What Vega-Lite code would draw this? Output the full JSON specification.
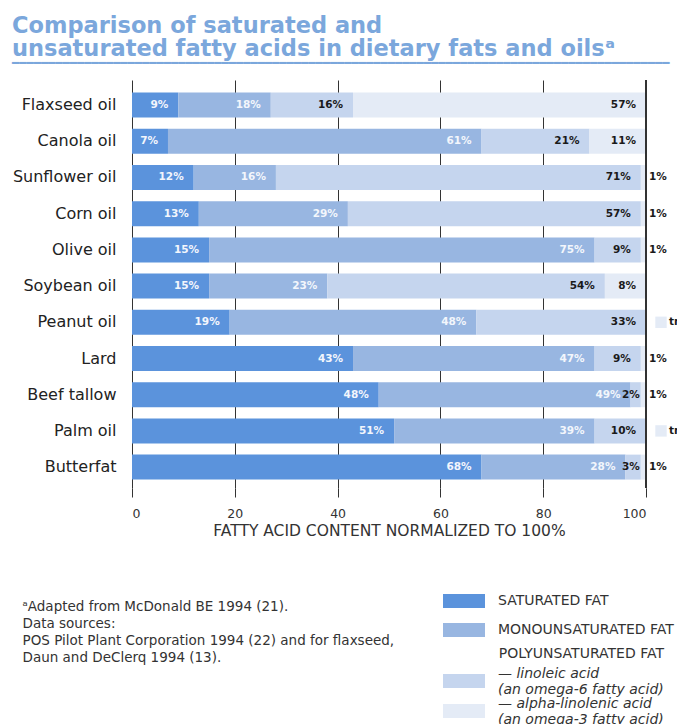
{
  "$schema": "https://vega.github.io/schema/vega-lite/v6.json",
  "autosize": {"type": "none"},
  "width": 514,
  "height": 408,
  "padding": {"left": 132, "top": 80, "right": 31, "bottom": 236},
  "background": "white",
  "config": {
    "view": {"stroke": null},
    "font": "DejaVu Sans",
    "legend": {"padding": 0}
  },
  "title": {
    "text": ["Comparison of saturated and", "unsaturated fatty acids in dietary fats and oilsᵃ"],
    "subtitle": "━━━━━━━━━━━━━━━━━━━━━━━━━━━━━━━━━━━━━━━━━━━━━━━━━━━━━━━━━━━━━━━━━━━━━━━━━━━━━━━━━━━━━━━━━━━",
    "anchor": "start",
    "frame": "group",
    "dx": -120,
    "font": "DejaVu Sans",
    "fontWeight": "bold",
    "fontSize": 22.5,
    "lineHeight": 23,
    "color": "#7ba7dc",
    "subtitleFont": "DejaVu Sans",
    "subtitleFontSize": 12,
    "subtitleColor": "#7ba7dc",
    "subtitlePadding": -3,
    "offset": 11
  },
  "data": {
    "values": [
      {"oil": "Flaxseed oil", "type": "SATURATED FAT", "pct": 9},
      {"oil": "Flaxseed oil", "type": "MONOUNSATURATED FAT", "pct": 18},
      {"oil": "Flaxseed oil", "type": "linoleic acid", "pct": 16},
      {"oil": "Flaxseed oil", "type": "alpha-linolenic acid", "pct": 57},
      {"oil": "Canola oil", "type": "SATURATED FAT", "pct": 7},
      {"oil": "Canola oil", "type": "MONOUNSATURATED FAT", "pct": 61},
      {"oil": "Canola oil", "type": "linoleic acid", "pct": 21},
      {"oil": "Canola oil", "type": "alpha-linolenic acid", "pct": 11},
      {"oil": "Sunflower oil", "type": "SATURATED FAT", "pct": 12},
      {"oil": "Sunflower oil", "type": "MONOUNSATURATED FAT", "pct": 16},
      {"oil": "Sunflower oil", "type": "linoleic acid", "pct": 71},
      {"oil": "Sunflower oil", "type": "alpha-linolenic acid", "pct": 1},
      {"oil": "Corn oil", "type": "SATURATED FAT", "pct": 13},
      {"oil": "Corn oil", "type": "MONOUNSATURATED FAT", "pct": 29},
      {"oil": "Corn oil", "type": "linoleic acid", "pct": 57},
      {"oil": "Corn oil", "type": "alpha-linolenic acid", "pct": 1},
      {"oil": "Olive oil", "type": "SATURATED FAT", "pct": 15},
      {"oil": "Olive oil", "type": "MONOUNSATURATED FAT", "pct": 75},
      {"oil": "Olive oil", "type": "linoleic acid", "pct": 9},
      {"oil": "Olive oil", "type": "alpha-linolenic acid", "pct": 1},
      {"oil": "Soybean oil", "type": "SATURATED FAT", "pct": 15},
      {"oil": "Soybean oil", "type": "MONOUNSATURATED FAT", "pct": 23},
      {"oil": "Soybean oil", "type": "linoleic acid", "pct": 54},
      {"oil": "Soybean oil", "type": "alpha-linolenic acid", "pct": 8},
      {"oil": "Peanut oil", "type": "SATURATED FAT", "pct": 19},
      {"oil": "Peanut oil", "type": "MONOUNSATURATED FAT", "pct": 48},
      {"oil": "Peanut oil", "type": "linoleic acid", "pct": 33},
      {"oil": "Peanut oil", "type": "alpha-linolenic acid", "pct": 0},
      {"oil": "Lard", "type": "SATURATED FAT", "pct": 43},
      {"oil": "Lard", "type": "MONOUNSATURATED FAT", "pct": 47},
      {"oil": "Lard", "type": "linoleic acid", "pct": 9},
      {"oil": "Lard", "type": "alpha-linolenic acid", "pct": 1},
      {"oil": "Beef tallow", "type": "SATURATED FAT", "pct": 48},
      {"oil": "Beef tallow", "type": "MONOUNSATURATED FAT", "pct": 49},
      {"oil": "Beef tallow", "type": "linoleic acid", "pct": 2},
      {"oil": "Beef tallow", "type": "alpha-linolenic acid", "pct": 1},
      {"oil": "Palm oil", "type": "SATURATED FAT", "pct": 51},
      {"oil": "Palm oil", "type": "MONOUNSATURATED FAT", "pct": 39},
      {"oil": "Palm oil", "type": "linoleic acid", "pct": 10},
      {"oil": "Palm oil", "type": "alpha-linolenic acid", "pct": 0},
      {"oil": "Butterfat", "type": "SATURATED FAT", "pct": 68},
      {"oil": "Butterfat", "type": "MONOUNSATURATED FAT", "pct": 28},
      {"oil": "Butterfat", "type": "linoleic acid", "pct": 3},
      {"oil": "Butterfat", "type": "alpha-linolenic acid", "pct": 1}
    ]
  },
  "transform": [
    {"calculate": "indexof(['SATURATED FAT','MONOUNSATURATED FAT','linoleic acid','alpha-linolenic acid'], datum.type)", "as": "ord"},
    {"calculate": "datum.pct + '%'", "as": "lbl"},
    {"stack": "pct", "groupby": ["oil"], "sort": [{"field": "ord", "order": "ascending"}], "as": ["start", "end"]}
  ],
  "layer": [
    {
      "transform": [{"filter": "datum.ord < 2"}],
      "mark": {"type": "bar"},
      "encoding": {
        "y": {
          "field": "oil",
          "type": "nominal",
          "sort": ["Flaxseed oil", "Canola oil", "Sunflower oil", "Corn oil", "Olive oil", "Soybean oil", "Peanut oil", "Lard", "Beef tallow", "Palm oil", "Butterfat"],
          "scale": {"paddingInner": 0.31, "paddingOuter": 0.29, "align": 0.6},
          "axis": {
            "domain": false,
            "ticks": false,
            "labelFont": "DejaVu Sans",
            "labelFontSize": 16,
            "labelColor": "#222222",
            "labelPadding": 16,
            "title": ["ᵃAdapted from McDonald BE 1994 (21).", "Data sources:", "POS Pilot Plant Corporation 1994 (22) and for flaxseed,", "Daun and DeClerq 1994 (13)."],
            "titleAngle": 0,
            "titleAlign": "left",
            "titleBaseline": "top",
            "titleX": -110,
            "titleY": 519,
            "titleFont": "DejaVu Sans",
            "titleFontSize": 13.5,
            "titleFontWeight": "normal",
            "titleColor": "#333333",
            "titleLineHeight": 17
          }
        },
        "x": {
          "field": "start", "type": "quantitative",
          "scale": {"domain": [0, 100], "nice": false},
          "axis": {
            "values": [0, 20, 40, 60, 80, 100],
            "grid": true, "gridColor": "#333333", "gridWidth": 1,
            "domain": false, "tickSize": 9, "tickColor": "#333333",
            "labelFont": "DejaVu Sans", "labelFontSize": 12.5, "labelColor": "#333333", "labelPadding": 10,
            "title": "FATTY ACID CONTENT NORMALIZED TO 100%",
            "titleFont": "DejaVu Sans", "titleFontSize": 15.5, "titleFontWeight": "normal", "titleColor": "#333333", "titlePadding": 4
          }
        },
        "x2": {"field": "end"},
        "color": {
          "field": "type", "type": "nominal",
          "scale": {"domain": ["SATURATED FAT", "MONOUNSATURATED FAT"], "range": ["#5b93dc", "#98b6e1"]},
          "legend": {
            "orient": "none", "legendX": 318, "legendY": 507, "title": null,
            "direction": "vertical",
            "symbolType": "M-1.5,-0.5H1.5V0.5H-1.5Z", "symbolSize": 784, "symbolStrokeWidth": 0,
            "labelOffset": 20, "rowPadding": 8, "labelLimit": 400,
            "labelFont": "DejaVu Sans", "labelFontSize": 14, "labelColor": "#333333"
          }
        }
      }
    },
    {
      "transform": [{"filter": "datum.ord >= 2"}],
      "mark": {"type": "bar"},
      "encoding": {
        "y": {"field": "oil", "type": "nominal", "sort": ["Flaxseed oil", "Canola oil", "Sunflower oil", "Corn oil", "Olive oil", "Soybean oil", "Peanut oil", "Lard", "Beef tallow", "Palm oil", "Butterfat"]},
        "x": {"field": "start", "type": "quantitative"},
        "x2": {"field": "end"},
        "color": {
          "field": "type", "type": "nominal",
          "scale": {"domain": ["linoleic acid", "alpha-linolenic acid"], "range": ["#c5d5ee", "#e4ebf6"]},
          "legend": {
            "orient": "none", "legendX": 318, "legendY": 567,
            "title": "POLYUNSATURATED FAT",
            "titleAnchor": "end", "titleFont": "DejaVu Sans", "titleFontSize": 14, "titleFontWeight": "normal", "titleColor": "#333333", "titlePadding": 6, "titleLimit": 400,
            "direction": "vertical",
            "symbolType": "M-1.5,-0.5H1.5V0.5H-1.5Z", "symbolSize": 784, "symbolStrokeWidth": 0,
            "labelOffset": 20, "rowPadding": -27, "labelLimit": 400, "labelBaseline": "bottom",
            "labelExpr": "datum.label == 'linoleic acid' ? ['— linoleic acid', '(an omega-6 fatty acid)'] : ['— alpha-linolenic acid', '(an omega-3 fatty acid)']",
            "labelFont": "DejaVu Sans", "labelFontSize": 14, "labelFontStyle": "italic", "labelColor": "#333333"
          }
        }
      }
    },
    {
      "mark": {"type": "rule", "color": "#333333", "strokeWidth": 1},
      "encoding": {"x": {"datum": 100}}
    },
    {
      "transform": [{"filter": "datum.pct >= 4"}],
      "mark": {"type": "text", "align": "right", "baseline": "middle", "dx": -10, "font": "DejaVu Sans", "fontSize": 10.5, "fontWeight": "bold"},
      "encoding": {
        "y": {"field": "oil", "type": "nominal", "sort": ["Flaxseed oil", "Canola oil", "Sunflower oil", "Corn oil", "Olive oil", "Soybean oil", "Peanut oil", "Lard", "Beef tallow", "Palm oil", "Butterfat"]},
        "x": {"field": "end", "type": "quantitative"},
        "text": {"field": "lbl"},
        "color": {"condition": {"test": "datum.ord < 2", "value": "#f3f6fc"}, "value": "#1a1a1a"}
      }
    },
    {
      "transform": [{"filter": "datum.pct >= 2 && datum.pct < 4"}],
      "mark": {"type": "text", "align": "right", "baseline": "middle", "dx": -1, "font": "DejaVu Sans", "fontSize": 10.5, "fontWeight": "bold", "color": "#1a1a1a"},
      "encoding": {
        "y": {"field": "oil", "type": "nominal", "sort": ["Flaxseed oil", "Canola oil", "Sunflower oil", "Corn oil", "Olive oil", "Soybean oil", "Peanut oil", "Lard", "Beef tallow", "Palm oil", "Butterfat"]},
        "x": {"field": "end", "type": "quantitative"},
        "text": {"field": "lbl"}
      }
    },
    {
      "transform": [{"filter": "datum.pct == 1"}],
      "mark": {"type": "text", "align": "left", "baseline": "middle", "dx": 3, "font": "DejaVu Sans", "fontSize": 10.5, "fontWeight": "bold", "color": "#1a1a1a"},
      "encoding": {
        "y": {"field": "oil", "type": "nominal", "sort": ["Flaxseed oil", "Canola oil", "Sunflower oil", "Corn oil", "Olive oil", "Soybean oil", "Peanut oil", "Lard", "Beef tallow", "Palm oil", "Butterfat"]},
        "x": {"datum": 100},
        "text": {"field": "lbl"}
      }
    },
    {
      "transform": [{"filter": "datum.pct == 0"}],
      "mark": {"type": "square", "filled": true, "size": 130, "xOffset": 15, "color": "#e4ebf6", "opacity": 1},
      "encoding": {
        "y": {"field": "oil", "type": "nominal", "sort": ["Flaxseed oil", "Canola oil", "Sunflower oil", "Corn oil", "Olive oil", "Soybean oil", "Peanut oil", "Lard", "Beef tallow", "Palm oil", "Butterfat"]},
        "x": {"datum": 100}
      }
    },
    {
      "transform": [{"filter": "datum.pct == 0"}],
      "mark": {"type": "text", "align": "left", "baseline": "middle", "dx": 23, "font": "DejaVu Sans", "fontSize": 10.5, "fontWeight": "bold", "color": "#1a1a1a"},
      "encoding": {
        "y": {"field": "oil", "type": "nominal", "sort": ["Flaxseed oil", "Canola oil", "Sunflower oil", "Corn oil", "Olive oil", "Soybean oil", "Peanut oil", "Lard", "Beef tallow", "Palm oil", "Butterfat"]},
        "x": {"datum": 100},
        "text": {"value": "trace"}
      }
    }
  ],
  "resolve": {"scale": {"color": "independent"}, "legend": {"color": "independent"}}
}
